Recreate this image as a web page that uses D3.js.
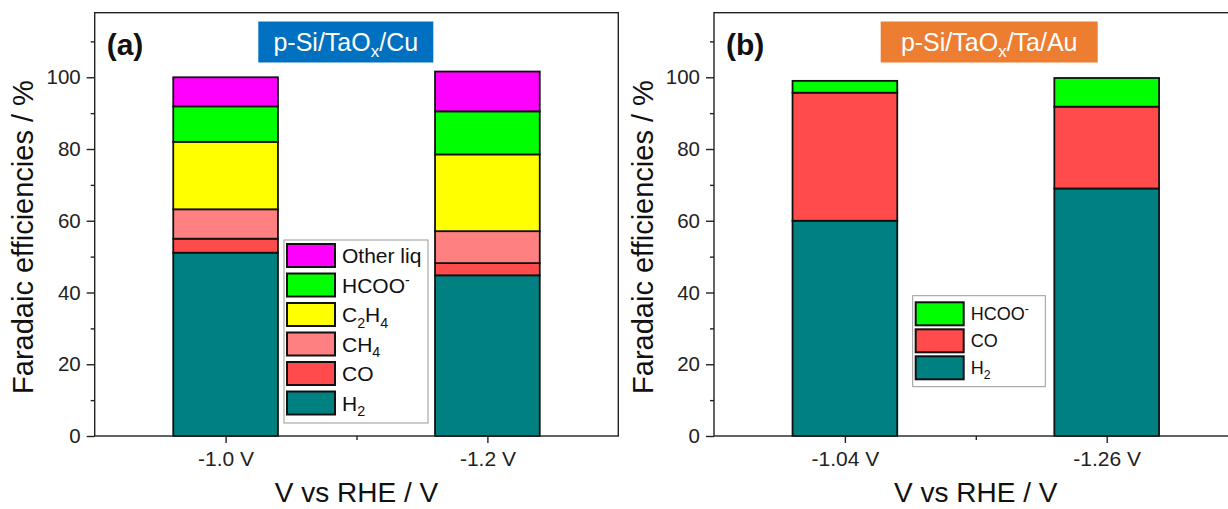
<!DOCTYPE html>
<html>
<head>
<meta charset="utf-8">
<script src="https://cdn.jsdelivr.net/npm/d3@7"></script>
<style>
  html, body { margin: 0; padding: 0; background: #fff; }
  svg { display: block; }
  text { font-family: Arial, "Liberation Sans", sans-serif; }
</style>
</head>
<body>
<svg id="chart" width="1228" height="509"></svg>
<script>
// ---------- data ----------
const catsA = ["-1.0 V", "-1.2 V"];
const h2A    = [51.1, 44.8];
const coA    = [3.9, 3.4];
const ch4A   = [8.2, 8.9];
const c2h4A  = [18.8, 21.4];
const hcooA  = [9.9, 12.0];
const otherA = [8.1, 11.1];

const catsB = ["-1.04 V", "-1.26 V"];
const h2B   = [60.0, 69.0];
const coB   = [35.7, 22.8];
const hcooB = [3.3, 8.0];

const yMajorTicks = [0, 20, 40, 60, 80, 100];
const yMinorTicks = [10, 30, 50, 70, 90, 110];

// ---------- styles ----------
const colors = {
  H2: "#008080", CO: "#ff4b4b", CH4: "#ff8080",
  C2H4: "#ffff00", HCOO: "#00ff00", Other: "#ff00ff"
};

const svg = d3.select("#chart");

function richLabel(sel, key, fs) {
  const sub = fs * 0.68, off = fs * 0.28;
  if (key === "H2") {
    sel.append("tspan").text("H");
    sel.append("tspan").attr("dy", off).attr("font-size", sub).text("2");
  } else if (key === "CH4") {
    sel.append("tspan").text("CH");
    sel.append("tspan").attr("dy", off).attr("font-size", sub).text("4");
  } else if (key === "C2H4") {
    sel.append("tspan").text("C");
    sel.append("tspan").attr("dy", off).attr("font-size", sub).text("2");
    sel.append("tspan").attr("dy", -off).text("H");
    sel.append("tspan").attr("dy", off).attr("font-size", sub).text("4");
  } else if (key === "HCOO") {
    sel.append("tspan").text("HCOO");
    sel.append("tspan").attr("dy", -fs * 0.38).attr("font-size", sub).text("-");
  } else if (key === "CO") {
    sel.append("tspan").text("CO");
  } else {
    sel.append("tspan").text("Other liq");
  }
}

function drawPanel(cfg) {
  const g = svg.append("g");
  const x = d3.scaleLinear().domain([0.5, 2.5]).range([cfg.left, cfg.left + 523.6]);
  const y = d3.scaleLinear().domain([0, 118]).range([436, 12.7]);

  const rows = cfg.cats.map((c, i) => {
    const r = { cat: c, pos: i + 1 };
    cfg.keys.forEach(k => { r[k] = cfg.series[k][i]; });
    return r;
  });
  const stacked = d3.stack().keys(cfg.keys)(rows);
  const bw = x(0.4) - x(0);

  stacked.forEach(layer => {
    g.selectAll(null).data(layer).enter().append("rect")
      .attr("x", d => x(d.data.pos) - bw / 2)
      .attr("width", bw)
      .attr("y", d => y(d[1]))
      .attr("height", d => y(d[0]) - y(d[1]))
      .attr("fill", colors[layer.key])
      .attr("stroke", "#111")
      .attr("stroke-width", 1.8);
  });

  // frame
  const x0 = x.range()[0], x1 = x.range()[1];
  g.append("rect").attr("x", x0).attr("y", y(118)).attr("width", x1 - x0).attr("height", y(0) - y(118))
    .attr("fill", "none").attr("stroke", "#222").attr("stroke-width", 1.4);

  // y axis ticks
  const yAxis = d3.axisLeft(y).tickValues(yMajorTicks).tickSize(8).tickPadding(6);
  const ya = g.append("g").attr("transform", `translate(${x0},0)`).call(yAxis);
  ya.select(".domain").remove();
  ya.selectAll("line").attr("stroke", "#222").attr("stroke-width", 1.4);
  ya.selectAll("text").attr("font-size", 20.5).attr("fill", "#222")
    .attr("font-family", "Arial, 'Liberation Sans', sans-serif");
  const yMinor = d3.axisLeft(y).tickValues(yMinorTicks).tickSize(4).tickFormat("");
  const ym = g.append("g").attr("transform", `translate(${x0},0)`).call(yMinor);
  ym.select(".domain").remove();
  ym.selectAll("line").attr("stroke", "#222").attr("stroke-width", 1.4);

  // x axis ticks
  const xAxis = d3.axisBottom(x).tickValues([1, 2]).tickSize(7).tickPadding(8)
    .tickFormat(d => cfg.cats[d - 1]);
  const xa = g.append("g").attr("transform", `translate(0,${y(0)})`).call(xAxis);
  xa.select(".domain").remove();
  xa.selectAll("line").attr("stroke", "#222").attr("stroke-width", 1.4);
  xa.selectAll("text").attr("font-size", 21).attr("fill", "#222")
    .attr("font-family", "Arial, 'Liberation Sans', sans-serif");
  const xMinor = d3.axisBottom(x).tickValues([1.5]).tickSize(4).tickFormat("");
  const xm = g.append("g").attr("transform", `translate(0,${y(0)})`).call(xMinor);
  xm.select(".domain").remove();
  xm.selectAll("line").attr("stroke", "#222").attr("stroke-width", 1.4);

  // axis titles
  g.append("text").attr("transform", `translate(${x0 - 61.5},237) rotate(-90)`)
    .attr("text-anchor", "middle").attr("font-size", 29).attr("fill", "#111")
    .text("Faradaic efficiencies / %");
  g.append("text").attr("x", x(1.5)).attr("y", 502).attr("text-anchor", "middle")
    .attr("font-size", 28).attr("fill", "#111").text("V vs RHE / V");

  // panel label
  g.append("text").attr("x", x0 + 12).attr("y", 55).attr("font-size", 30)
    .attr("font-weight", "bold").attr("fill", "#111").text(cfg.label);

  // title box
  g.append("rect").attr("x", cfg.tb[0]).attr("y", 21.5).attr("width", cfg.tb[1] - cfg.tb[0])
    .attr("height", 41).attr("fill", cfg.tbColor);
  const tt = g.append("text").attr("x", (cfg.tb[0] + cfg.tb[1]) / 2).attr("y", 51)
    .attr("text-anchor", "middle").attr("font-size", 25).attr("fill", "#fff");
  tt.append("tspan").text("p-Si/TaO");
  tt.append("tspan").attr("dy", 6).attr("font-size", 17).text("x");
  tt.append("tspan").attr("dy", -6).text(cfg.tbRest);

  // legend
  const L = cfg.legend;
  g.append("rect").attr("x", L.x).attr("y", L.y).attr("width", L.w).attr("height", L.h)
    .attr("fill", "#fff").attr("stroke", "#999").attr("stroke-width", 1);
  L.items.forEach((k, i) => {
    const cy = L.cy0 + i * L.step;
    g.append("rect").attr("x", L.x + 3).attr("y", cy - 11.5).attr("width", 48).attr("height", 23)
      .attr("fill", colors[k]).attr("stroke", "#111").attr("stroke-width", 2);
    const t = g.append("text").attr("x", L.x + 58).attr("y", cy + L.fs * 0.36)
      .attr("font-size", L.fs).attr("fill", "#111");
    richLabel(t, k, L.fs);
  });
}

drawPanel({
  left: 94.7, cats: catsA, label: "(a)",
  keys: ["H2", "CO", "CH4", "C2H4", "HCOO", "Other"],
  series: { H2: h2A, CO: coA, CH4: ch4A, C2H4: c2h4A, HCOO: hcooA, Other: otherA },
  tb: [258.3, 433.3], tbColor: "#0070c0", tbRest: "/Cu",
  legend: { x: 284, y: 240, w: 144, h: 183, cy0: 255.5, step: 29.5, fs: 21,
            items: ["Other", "HCOO", "C2H4", "CH4", "CO", "H2"] }
});

drawPanel({
  left: 714, cats: catsB, label: "(b)",
  keys: ["H2", "CO", "HCOO"],
  series: { H2: h2B, CO: coB, HCOO: hcooB },
  tb: [880.7, 1097.7], tbColor: "#ed7d31", tbRest: "/Ta/Au",
  legend: { x: 912.7, y: 295.7, w: 132.6, h: 91, cy0: 313.8, step: 27, fs: 18,
            items: ["HCOO", "CO", "H2"] }
});
</script>
</body>
</html>
